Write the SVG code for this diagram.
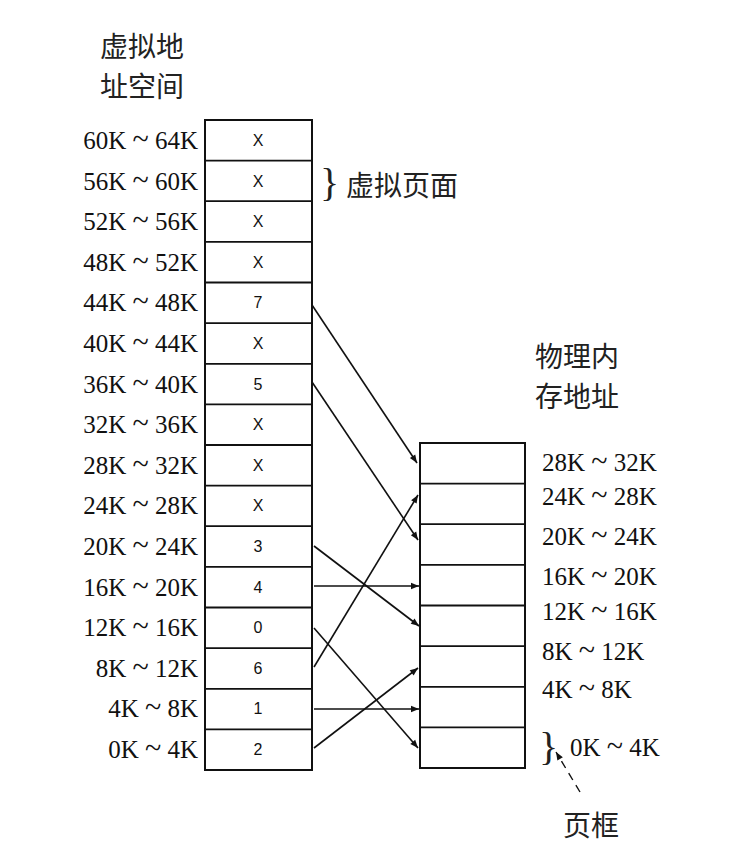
<svg xmlns="http://www.w3.org/2000/svg" width="754" height="862" viewBox="0 0 754 862">
<style>
.t{font-family:"Liberation Serif",serif;font-size:25px;fill:#111}
.t tspan.s{font-size:30px}
.c{font-family:"Noto Sans CJK SC",sans-serif;font-size:28px;fill:#222}
.n{font-family:"Liberation Sans",sans-serif;font-size:16px;fill:#111;text-anchor:middle}
.br{font-family:"Liberation Serif",serif;font-size:40px;fill:#222}
.b{fill:#fff;stroke:#111;stroke-width:2}
.l{stroke:#111;stroke-width:1.8;fill:none}
.a{stroke:#111;stroke-width:1.6;fill:none;marker-end:url(#ah)}
</style>
<defs><marker id="ah" viewBox="0 0 10 10" refX="10" refY="5" markerWidth="12" markerHeight="8" markerUnits="userSpaceOnUse" orient="auto"><path d="M0,1 L10,5 L0,9 Z" fill="#111"/></marker></defs>
<g id="titles">
<text class="c" x="100" y="57">虚拟地</text>
<text class="c" x="100" y="97">址空间</text>
<text class="c" x="535" y="367">物理内</text>
<text class="c" x="535" y="407">存地址</text>
<text class="c" x="346" y="196">虚拟页面</text>
<text class="br" x="320" y="196">}</text>
<text class="c" x="563" y="836">页框</text>
<text class="br" x="539" y="760">}</text>
<line x1="580" y1="792" x2="556" y2="752" stroke="#111" stroke-width="1.4" stroke-dasharray="8,6" marker-end="url(#ah)"/>
</g>
<g id="virtual">
<rect class="b" x="205" y="120" width="107" height="650"/>
<g class="l">
<line x1="205" y1="160.6" x2="312" y2="160.6"/><line x1="205" y1="201.2" x2="312" y2="201.2"/><line x1="205" y1="241.9" x2="312" y2="241.9"/><line x1="205" y1="282.5" x2="312" y2="282.5"/><line x1="205" y1="323.1" x2="312" y2="323.1"/><line x1="205" y1="363.8" x2="312" y2="363.8"/><line x1="205" y1="404.4" x2="312" y2="404.4"/><line x1="205" y1="445" x2="312" y2="445"/><line x1="205" y1="485.6" x2="312" y2="485.6"/><line x1="205" y1="526.2" x2="312" y2="526.2"/><line x1="205" y1="566.9" x2="312" y2="566.9"/><line x1="205" y1="607.5" x2="312" y2="607.5"/><line x1="205" y1="648.1" x2="312" y2="648.1"/><line x1="205" y1="688.8" x2="312" y2="688.8"/><line x1="205" y1="729.4" x2="312" y2="729.4"/>
</g>
<g class="n">
<text x="258" y="146">X</text><text x="258" y="187">X</text><text x="258" y="227">X</text><text x="258" y="268">X</text><text x="258" y="308">7</text><text x="258" y="349">X</text><text x="258" y="390">5</text><text x="258" y="430">X</text><text x="258" y="471">X</text><text x="258" y="511">X</text><text x="258" y="552">3</text><text x="258" y="593">4</text><text x="258" y="633">0</text><text x="258" y="674">6</text><text x="258" y="714">1</text><text x="258" y="755">2</text>
</g>
<g class="t" text-anchor="end">
<text x="198" y="149">60K <tspan class="s">~</tspan> 64K</text><text x="198" y="190">56K <tspan class="s">~</tspan> 60K</text><text x="198" y="230">52K <tspan class="s">~</tspan> 56K</text><text x="198" y="271">48K <tspan class="s">~</tspan> 52K</text><text x="198" y="311">44K <tspan class="s">~</tspan> 48K</text><text x="198" y="352">40K <tspan class="s">~</tspan> 44K</text><text x="198" y="393">36K <tspan class="s">~</tspan> 40K</text><text x="198" y="433">32K <tspan class="s">~</tspan> 36K</text><text x="198" y="474">28K <tspan class="s">~</tspan> 32K</text><text x="198" y="514">24K <tspan class="s">~</tspan> 28K</text><text x="198" y="555">20K <tspan class="s">~</tspan> 24K</text><text x="198" y="596">16K <tspan class="s">~</tspan> 20K</text><text x="198" y="636">12K <tspan class="s">~</tspan> 16K</text><text x="198" y="677">8K <tspan class="s">~</tspan> 12K</text><text x="198" y="717">4K <tspan class="s">~</tspan> 8K</text><text x="198" y="758">0K <tspan class="s">~</tspan> 4K</text>
</g>
</g>
<g id="physical">
<rect class="b" x="420" y="443" width="105" height="325"/>
<g class="l">
<line x1="420" y1="483.6" x2="525" y2="483.6"/><line x1="420" y1="524.2" x2="525" y2="524.2"/><line x1="420" y1="564.9" x2="525" y2="564.9"/><line x1="420" y1="605.5" x2="525" y2="605.5"/><line x1="420" y1="646.1" x2="525" y2="646.1"/><line x1="420" y1="686.8" x2="525" y2="686.8"/><line x1="420" y1="727.4" x2="525" y2="727.4"/>
</g>
<g class="t">
<text x="542" y="471">28K <tspan class="s">~</tspan> 32K</text><text x="542" y="505">24K <tspan class="s">~</tspan> 28K</text><text x="542" y="545">20K <tspan class="s">~</tspan> 24K</text><text x="542" y="585">16K <tspan class="s">~</tspan> 20K</text><text x="542" y="620">12K <tspan class="s">~</tspan> 16K</text><text x="542" y="660">8K <tspan class="s">~</tspan> 12K</text><text x="542" y="698">4K <tspan class="s">~</tspan> 8K</text><text x="570" y="756">0K <tspan class="s">~</tspan> 4K</text>
</g>
</g>
<g id="connectors">
<line class="a" x1="312" y1="305" x2="417" y2="463"/>
<line class="a" x1="312" y1="382" x2="418" y2="540"/>
<line class="a" x1="314" y1="546" x2="419" y2="626"/>
<line class="a" x1="314" y1="586" x2="419" y2="586"/>
<line class="a" x1="314" y1="628" x2="418" y2="748"/>
<line class="a" x1="314" y1="667" x2="418" y2="495"/>
<line class="a" x1="314" y1="709" x2="419" y2="709"/>
<line class="a" x1="314" y1="748" x2="418" y2="668"/>
</g>
</svg>
